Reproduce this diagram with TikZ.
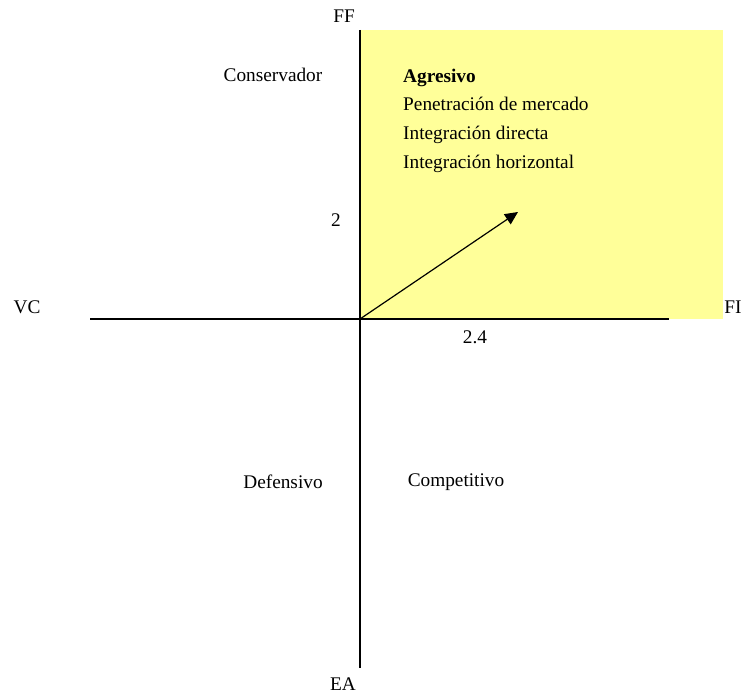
\documentclass[tikz,border=0pt]{standalone}
\usepackage{fontspec}
\setmainfont{Liberation Serif}
\usetikzlibrary{arrows.meta}
\definecolor{agrfill}{RGB}{255,255,153}

\begin{document}
\begin{tikzpicture}[x=1pt, y=-1pt,
    lbl/.style={font=\fontsize{19.3}{23}\selectfont, inner sep=0pt},
    axis/.style={line width=1.5pt},
    vaxis/.style={line width=2pt},
    vec/.style={-{Triangle[length=13pt,width=12pt]}, line width=1.2pt}
  ]
  \useasboundingbox (0,0) rectangle (744,695);

  % aggressive quadrant (shaded)
  \fill[agrfill] (360,30) rectangle (723,319);

  % axis ends
  \coordinate (o)   at (360,319);
  \coordinate (vcE) at (90,319);
  \coordinate (fiE) at (669,319);
  \coordinate (ffE) at (360,30);
  \coordinate (eaE) at (360,668);
  \coordinate (pos) at (518,212);

  \draw[axis]  (vcE) -- (fiE);
  \draw[vaxis] (ffE) -- (eaE);

  % axis labels
  \node[lbl] (ff) at (344,16)  {FF};
  \node[lbl] (ea) at (343,684) {EA};
  \node[lbl] (vc) at (27,307)  {VC};
  \node[lbl] (fi) at (733,307) {FI};

  % values
  \node[lbl] (yval) at (336,220) {2};
  \node[lbl] (xval) at (475,337) {2.4};

  % quadrant names
  \node[lbl] (cons) at (273,75)  {Conservador};
  \node[lbl] (def)  at (283,482) {Defensivo};
  \node[lbl] (comp) at (456,482) {Competitivo};

  \node[lbl, anchor=base west] (agr) at (403,83) {\textbf{Agresivo}};
  \node[lbl, anchor=base west] (s1)  at (403,111) {Penetración de mercado};
  \node[lbl, anchor=base west] (s2)  at (403,140) {Integración directa};
  \node[lbl, anchor=base west] (s3)  at (403,169) {Integración horizontal};

  % position vector
  \draw[vec] (o) -- (pos);
\end{tikzpicture}
\end{document}
